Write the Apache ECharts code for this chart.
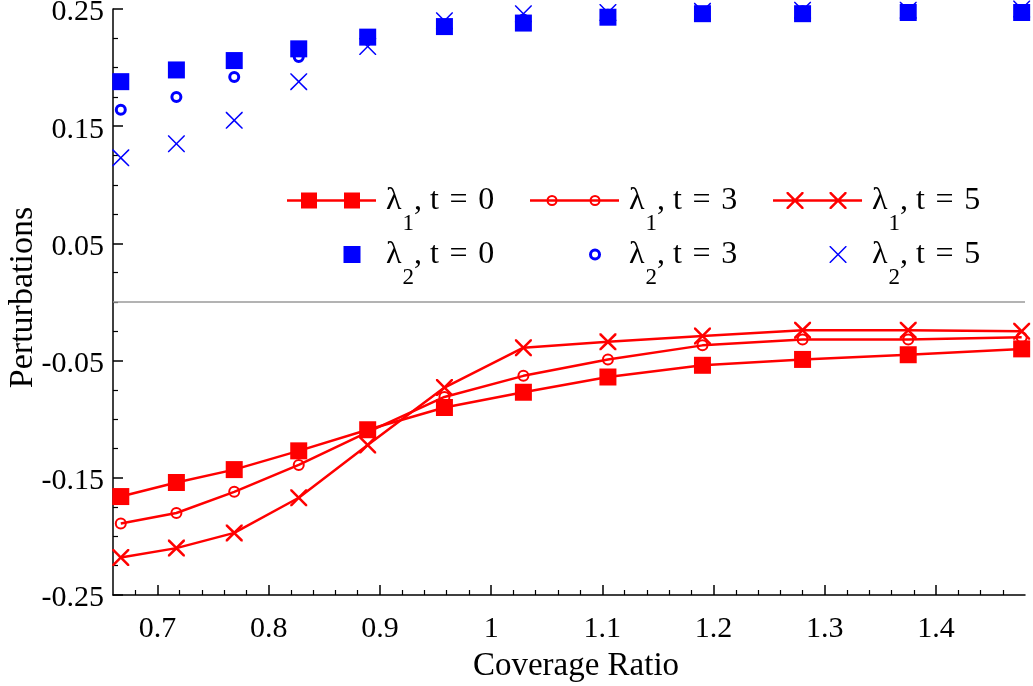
<!DOCTYPE html>
<html><head><meta charset="utf-8">
<script src="https://cdn.jsdelivr.net/npm/echarts@6/dist/echarts.min.js"></script>
<style>html,body{margin:0;padding:0;background:#fff}#c{width:1033px;height:686px}</style>
</head><body><div id="c"></div>
<script>
// ---- data ----
const coverage = [0.667, 0.717, 0.769, 0.827, 0.889, 0.958, 1.029, 1.105, 1.190, 1.280, 1.375, 1.477];
const lam1_t0 = [-0.166, -0.154, -0.143, -0.127, -0.109, -0.090, -0.077, -0.064, -0.054, -0.049, -0.045, -0.040];
const lam1_t3 = [-0.189, -0.180, -0.162, -0.139, -0.111, -0.081, -0.063, -0.049, -0.037, -0.032, -0.032, -0.030];
const lam1_t5 = [-0.218, -0.210, -0.197, -0.167, -0.122, -0.073, -0.039, -0.034, -0.029, -0.024, -0.024, -0.025];
const lam2_t0 = [0.188, 0.198, 0.206, 0.216, 0.226, 0.235, 0.238, 0.243, 0.246, 0.246, 0.247, 0.247];
const lam2_t3 = [0.164, 0.175, 0.192, 0.209, 0.225, 0.236, 0.241, 0.245, 0.247, 0.248, 0.248, 0.249];
const lam2_t5 = [0.123, 0.135, 0.155, 0.188, 0.218, 0.240, 0.246, 0.247, 0.248, 0.249, 0.249, 0.250];
const seriesNames = ['λ1, t = 0', 'λ1, t = 3', 'λ1, t = 5', 'λ2, t = 0', 'λ2, t = 3', 'λ2, t = 5'];
const xTicks = [0.7, 0.8, 0.9, 1.0, 1.1, 1.2, 1.3, 1.4];
const xTickLabels = ['0.7', '0.8', '0.9', '1', '1.1', '1.2', '1.3', '1.4'];
const xMinorTicks = [0.68, 0.72, 0.74, 0.76, 0.78, 0.82, 0.84, 0.86, 0.88, 0.92, 0.94, 0.96, 0.98,
  1.02, 1.04, 1.06, 1.08, 1.12, 1.14, 1.16, 1.18, 1.22, 1.24, 1.26, 1.28, 1.32, 1.34, 1.36, 1.38, 1.42, 1.44, 1.46];
const yTicks = [-0.25, -0.15, -0.05, 0.05, 0.15, 0.25];
const yTickLabels = ['-0.25', '-0.15', '-0.05', '0.05', '0.15', '0.25'];
const yMinorTicks = [-0.225, -0.2, -0.175, -0.125, -0.1, -0.075, -0.025, 0, 0.025, 0.075, 0.1, 0.125, 0.175, 0.2, 0.225];

// ---- symbol shapes ----
const f = n => (Math.round(n * 1000) / 1000);
function sqP(cx, cy, s) { const h = s / 2; return `M${f(cx-h)},${f(cy-h)}L${f(cx+h)},${f(cy-h)}L${f(cx+h)},${f(cy+h)}L${f(cx-h)},${f(cy+h)}Z`; }
function ringP(cx, cy, ro, ri) {
  return `M${f(cx-ro)},${cy}A${ro},${ro} 0 1,1 ${f(cx+ro)},${cy}A${ro},${ro} 0 1,1 ${f(cx-ro)},${cy}Z` +
         `M${f(cx-ri)},${cy}A${ri},${ri} 0 1,0 ${f(cx+ri)},${cy}A${ri},${ri} 0 1,0 ${f(cx-ri)},${cy}Z`;
}
function crossP(cx, cy, s, d) {
  const k = s / 20;
  const p = [[0,0],[d,0],[10,10-d],[20-d,0],[20,0],[20,d],[10+d,10],[20,20-d],[20,20],[20-d,20],[10,10+d],[d,20],[0,20],[0,20-d],[10-d,10],[0,d]];
  return 'M' + p.map(q => f(cx - s/2 + q[0]*k) + ',' + f(cy - s/2 + q[1]*k)).join('L') + 'Z';
}
const IW = 94, IH = 18;
const frame = `M0,0L0.01,0ZM${IW-0.01},${IH}L${IW},${IH}Z`;
const lineP = `M0,${IH/2-1.25}L89,${IH/2-1.25}L89,${IH/2+1.25}L0,${IH/2+1.25}Z`;
const m1 = 22, m2 = 65;
const icons = [
  'path://' + frame + lineP + sqP(m1, 9, 16) + sqP(m2, 9, 16),
  'path://' + frame + lineP + ringP(m1, 9, 5.5, 3.5) + ringP(m2, 9, 5.5, 3.5),
  'path://' + frame + lineP + crossP(m1, 9, 17, 2.1) + crossP(m2, 9, 17, 2.1),
  'path://' + frame + sqP(m2, 9, 17),
  'path://' + frame + ringP(m2, 9, 6, 3),
  'path://' + frame + crossP(m2, 9, 17, 1.25)
];
const symRedSq = 'path://' + sqP(8, 8, 16);
const symRedRing = 'path://' + ringP(6, 6, 6, 4);
const symRedX = 'path://' + crossP(10, 10, 20, 2.1);
const symBlueSq = 'path://' + sqP(8, 8, 16);
const symBlueRing = 'path://' + ringP(6, 6, 6, 3);
const symBlueX = 'path://' + crossP(10, 10, 20, 1.25);

const pairs = arr => coverage.map((x, i) => [x, arr[i]]);
const RED = '#ff0000', BLUE = '#0000ff';
const FONT = "'Liberation Serif', 'Times New Roman', serif";

function lineSeries(name, arr, sym, size) {
  return { name, type: 'line', data: pairs(arr), symbol: sym, symbolSize: size, showAllSymbol: true,
    lineStyle: { color: RED, width: 2.5 }, itemStyle: { color: RED, borderWidth: 0 },
    emphasis: { disabled: true }, animation: false, clip: false };
}
function scatterSeries(name, arr, sym, size) {
  return { name, type: 'scatter', data: pairs(arr), symbol: sym, symbolSize: size,
    itemStyle: { color: BLUE, borderWidth: 0, opacity: 1 }, emphasis: { disabled: true }, animation: false, clip: false };
}
const series = [
  lineSeries(seriesNames[0], lam1_t0, symRedSq, 17),
  lineSeries(seriesNames[1], lam1_t3, symRedRing, 12),
  lineSeries(seriesNames[2], lam1_t5, symRedX, 17),
  scatterSeries(seriesNames[3], lam2_t0, symBlueSq, 17),
  scatterSeries(seriesNames[4], lam2_t3, symBlueRing, 12),
  scatterSeries(seriesNames[5], lam2_t5, symBlueX, 17)
];
series[0].markLine = { silent: true, symbol: 'none', label: { show: false },
  lineStyle: { color: '#9a9a9a', width: 1.5, type: 'solid' }, data: [{ yAxis: 0 }] };

const legendText = {
  color: '#000', fontFamily: FONT, fontSize: 32,
  rich: {
    m: { fontFamily: FONT, fontSize: 32, lineHeight: 70, verticalAlign: 'middle', color: '#000' },
    s: { fontFamily: FONT, fontSize: 23, lineHeight: 8, verticalAlign: 'bottom', padding: [0, 0, 0, 1], color: '#000' },
    t: { fontFamily: FONT, fontSize: 32, lineHeight: 70, verticalAlign: 'middle', width: 88, align: 'left', color: '#000' }
  }
};
function legendFmt(name) {
  const m = name.match(/^λ(\d), (.*)$/);
  return `{m|λ}{s|${m[1]}}{t|, ${m[2].replace(/ /g, '\u2004')}}`;
}
function makeLegend(idx, top) {
  return { show: true, orient: 'horizontal', left: 287, top, padding: 0, itemGap: 28,
    itemWidth: IW, itemHeight: IH, symbolKeepAspect: false, selectedMode: false,
    itemStyle: { borderWidth: 0 },
    data: idx.map(i => ({ name: seriesNames[i], icon: icons[i] })),
    formatter: legendFmt, textStyle: legendText };
}
const lab = (ticks, labels) => v => { const i = ticks.findIndex(t => Math.abs(t - v) < 1e-9); return i >= 0 ? labels[i] : ''; };
const axisLine = { show: true, onZero: false, lineStyle: { color: '#000', width: 1.5 } };

const option = {
  backgroundColor: '#fff',
  animation: false,
  textStyle: { fontFamily: FONT, color: '#000' },
  grid: { left: 113, right: 8, top: 9, bottom: 91, containLabel: false, outerBoundsMode: 'none' },
  legend: [makeLegend([0, 1, 2], 184.5), makeLegend([3, 4, 5], 238.5)],
  xAxis: [
    { type: 'value', min: 0.66, max: 1.48, position: 'bottom', axisLine,
      axisTick: { show: true, inside: true, length: 10, customValues: xTicks, lineStyle: { color: '#000', width: 1.5 } },
      axisLabel: { show: true, customValues: xTicks, formatter: lab(xTicks, xTickLabels), margin: 19,
        color: '#000', fontFamily: FONT, fontSize: 30 },
      splitLine: { show: false },
      name: 'Coverage Ratio', nameLocation: 'middle', nameGap: 55, nameMoveOverlap: false,
      nameTextStyle: { color: '#000', fontFamily: FONT, fontSize: 33, padding: [0, 0, 0, 14] } },
    { type: 'value', min: 0.66, max: 1.48, position: 'bottom', axisLine: { show: false, onZero: false },
      axisTick: { show: true, inside: true, length: 5, customValues: xMinorTicks, lineStyle: { color: '#000', width: 1.2 } },
      axisLabel: { show: false }, splitLine: { show: false } }
  ],
  yAxis: [
    { type: 'value', min: -0.25, max: 0.25, position: 'left', axisLine,
      axisTick: { show: true, inside: true, length: 10, customValues: yTicks, lineStyle: { color: '#000', width: 1.5 } },
      axisLabel: { show: true, customValues: yTicks, formatter: lab(yTicks, yTickLabels), margin: 9,
        color: '#000', fontFamily: FONT, fontSize: 30, verticalAlign: 'top', lineHeight: 7 },
      splitLine: { show: false },
      name: 'Perturbations', nameLocation: 'middle', nameGap: 73, nameRotate: 90, nameMoveOverlap: false,
      nameTextStyle: { color: '#000', fontFamily: FONT, fontSize: 34, padding: [0, 0, 0, 9] } },
    { type: 'value', min: -0.25, max: 0.25, position: 'left', axisLine: { show: false, onZero: false },
      axisTick: { show: true, inside: true, length: 5, customValues: yMinorTicks, lineStyle: { color: '#000', width: 1.2 } },
      axisLabel: { show: false }, splitLine: { show: false } }
  ],
  series
};
const chart = echarts.init(document.getElementById('c'), null, { renderer: 'canvas' });
chart.setOption(option);
</script>
</body></html>
